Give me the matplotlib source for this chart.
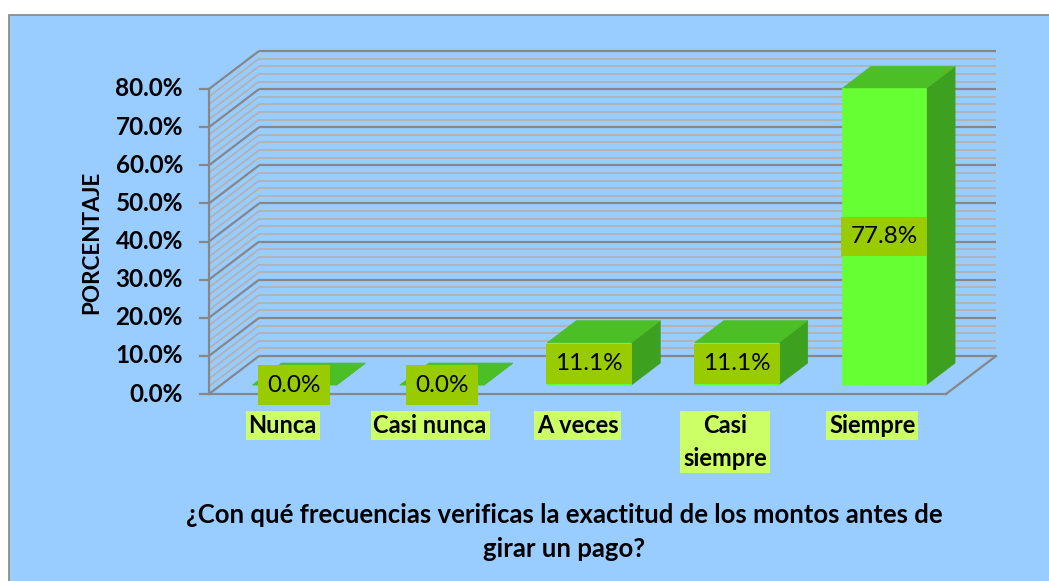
import matplotlib
matplotlib.use("Agg")
import matplotlib.pyplot as plt
from matplotlib.patches import Polygon, Rectangle

plt.rcParams['font.family'] = ['Lato', 'DejaVu Sans']

# ---- data ----
categories = ["Nunca", "Casi nunca", "A veces", "Casi\nsiempre", "Siempre"]
values = [0.0, 0.0, 11.1, 11.1, 77.8]
y_ticks = [0, 10, 20, 30, 40, 50, 60, 70, 80]
y_tick_labels = [f"{t:.1f}%" for t in y_ticks]
y_title = "PORCENTAJE"
x_title = "¿Con qué frecuencias verificas la exactitud de los montos antes de\ngirar un pago?"

# ---- layout ----
W, H = 1049, 581
PX_CAT = 147.4      # pixels per category on front plane
X0PX = 209          # pixel x of front-left axis
PX_PCT = 3.8125     # pixels per percent
Y0PX = 394          # pixel y (from top) of 0% on front plane
N = len(categories)
YMAX = 80
DX = 50 / PX_CAT    # depth offset in data units
DY = 38 / PX_PCT
BAR_W = 0.57
D0, D1 = 0.235, 0.815

BG = '#99CCFF'
MAJOR = '#878787'
MINOR = '#B2B2B2'
FRONT = '#66FF33'
TOP = '#4CBF26'
SIDE = '#3EA01F'
VAL_BOX = '#99CC00'
CAT_BOX = '#CCFF66'

fig = plt.figure(figsize=(W / 100, H / 100), dpi=100)
fig.patch.set_facecolor('white')
fig.patches.append(Rectangle((8.5 / W, -0.05), 1.2, (H - 14.5) / H + 0.05,
                             transform=fig.transFigure, fc=BG, ec='#8C8C8C',
                             lw=1.3, zorder=-10))

ax = fig.add_axes([0, 0, 1, 1])
ax.set_zorder(5)
ax.set_xlim(-X0PX / PX_CAT, (W - X0PX) / PX_CAT)
ax.set_ylim(-(H - Y0PX) / PX_PCT, Y0PX / PX_PCT)
ax.axis('off')
ax.patch.set_visible(False)

# gridlines on back wall and side wall
for v in range(0, YMAX + 1, 2):
    major = (v % 10 == 0)
    c = MAJOR if major else MINOR
    lw = 1.6 if major else 1.3
    z = 2 if major else 1
    ax.plot([DX, N + DX], [v + DY, v + DY], color=c, lw=lw, zorder=z,
            solid_capstyle='butt')
    ax.plot([0, DX], [v, v + DY], color=c, lw=lw, zorder=z,
            solid_capstyle='butt')

# front vertical axis and tick marks
ax.plot([0, 0], [0, YMAX], color=MAJOR, lw=1.6, zorder=2)
for t, lab in zip(y_ticks, y_tick_labels):
    ax.plot([-9 / PX_CAT, 0], [t, t], color=MAJOR, lw=1.6, zorder=2)
    ax.text(-26 / PX_CAT, t, lab, ha='right', va='center',
            fontsize=17.5, fontweight='bold', color='black')

# floor edges
ax.plot([0, N], [0, 0], color=MAJOR, lw=1.6, zorder=2)
ax.plot([N, N + DX], [0, DY], color=MAJOR, lw=1.6, zorder=2)

# bars
bdx, bdy = (D1 - D0) * DX, (D1 - D0) * DY
for i, v in enumerate(values):
    xl = i + 0.5 - BAR_W / 2 + D0 * DX
    yb = D0 * DY
    z = 5 + i
    ax.add_patch(Polygon([(xl + BAR_W, yb), (xl + BAR_W + bdx, yb + bdy),
                          (xl + BAR_W + bdx, yb + v + bdy), (xl + BAR_W, yb + v)],
                         closed=True, fc=SIDE, ec=SIDE, lw=0.5, zorder=z))
    ax.add_patch(Polygon([(xl, yb + v), (xl + BAR_W, yb + v),
                          (xl + BAR_W + bdx, yb + v + bdy), (xl + bdx, yb + v + bdy)],
                         closed=True, fc=TOP, ec=TOP, lw=0.5, zorder=z))
    if v > 0:
        ax.add_patch(Rectangle((xl, yb), BAR_W, v, fc=FRONT, ec=FRONT,
                               lw=0.5, zorder=z))
    ax.text(xl + BAR_W / 2, yb + v / 2, f"{v:.1f}%", ha='center', va='center',
            fontsize=17.5, color='black', zorder=20,
            bbox=dict(boxstyle='square,pad=0.38', fc=VAL_BOX, ec='none'))

# category labels
for i, c in enumerate(categories):
    ax.text(i + 0.5, -(414 - Y0PX) / PX_PCT, c, ha='center', va='top',
            fontsize=17, fontweight='bold', color='black', linespacing=1.55,
            zorder=20,
            bbox=dict(boxstyle='square,pad=0.12', fc=CAT_BOX, ec='none'))

# axis titles
ax.text((92 - X0PX) / PX_CAT, (Y0PX - 242) / PX_PCT, y_title, rotation=90,
        ha='center', va='center', fontsize=16.2, fontweight='bold', color='black')
ax.text((564 - X0PX) / PX_CAT, (Y0PX - 532) / PX_PCT, x_title,
        ha='center', va='center', fontsize=18.5, fontweight='bold', color='black',
        linespacing=1.48)

fig.savefig("out.png", dpi=100, facecolor=fig.get_facecolor())
